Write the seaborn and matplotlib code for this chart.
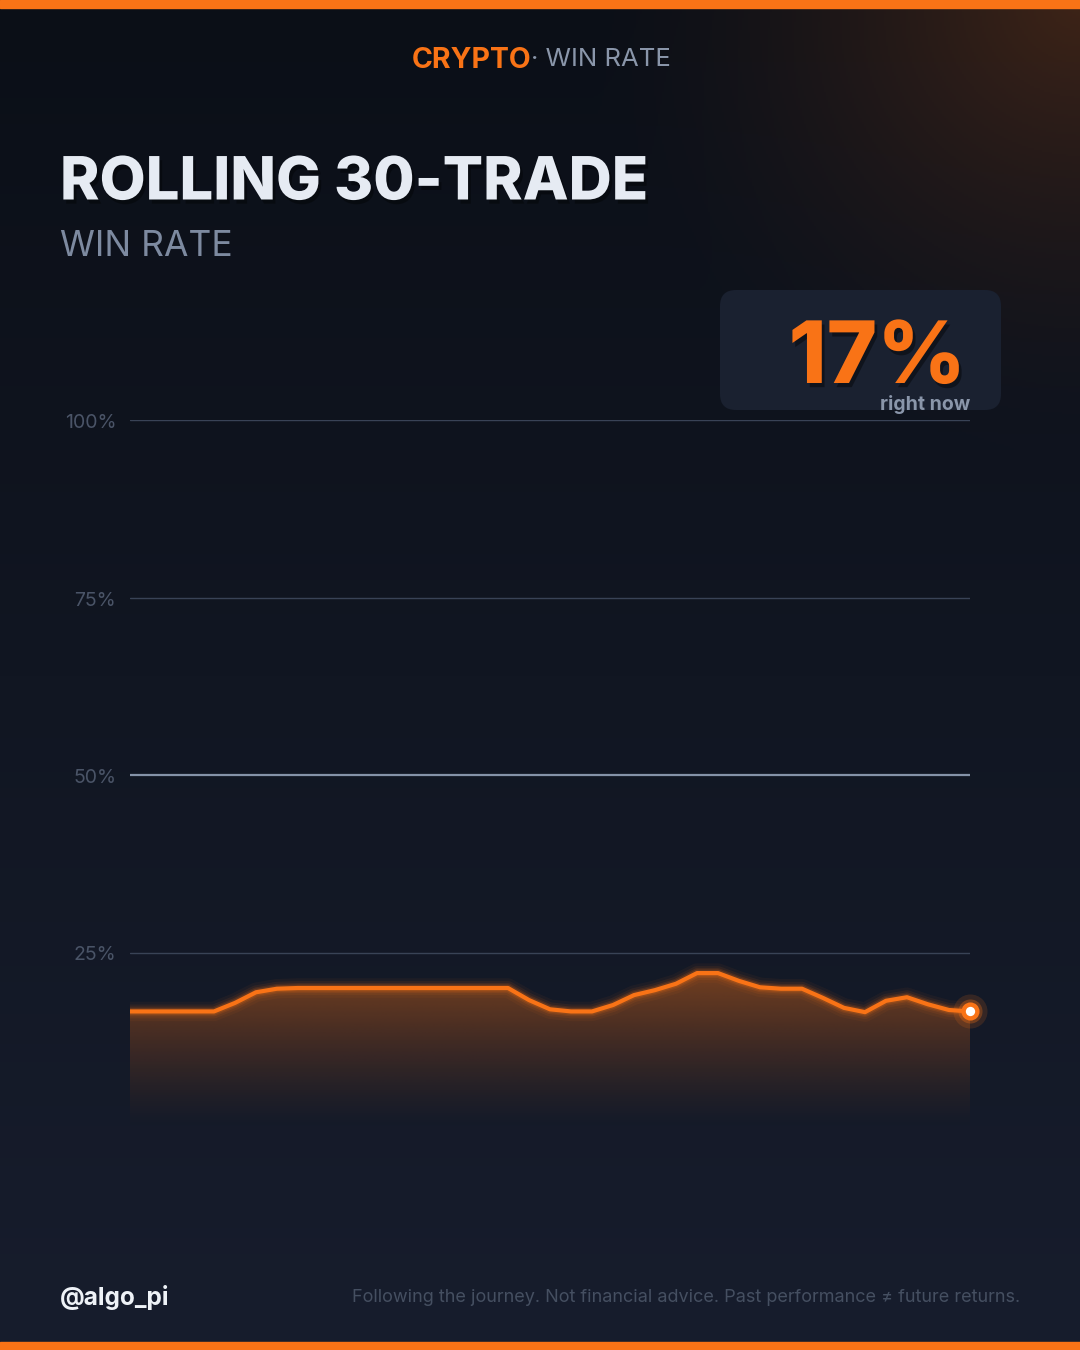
import numpy as np
import pandas as pd
import matplotlib
matplotlib.use("Agg")
import matplotlib.pyplot as plt
import seaborn as sns
from matplotlib.patches import FancyBboxPatch, Rectangle
import matplotlib.patheffects as pe

# rolling 30-trade win rate (%), one point per step
trade_idx = list(range(41))
win_rate = [16.7, 16.7, 16.7, 16.7, 16.7, 17.9, 19.4, 19.9, 20.0, 20.0,
            20.0, 20.0, 20.0, 20.0, 20.0, 20.0, 20.0, 20.0, 20.0, 18.3,
            17.0, 16.7, 16.7, 17.6, 19.0, 19.7, 20.6, 22.1, 22.1, 21.0,
            20.1, 19.9, 19.9, 18.6, 17.2, 16.6, 18.2, 18.7, 17.7, 16.9,
            16.7]
y_ticks = [25, 50, 75, 100]
y_tick_labels = ["25%", "50%", "75%", "100%"]
current_label = "17%"

ORANGE = "#f97316"
df = pd.DataFrame({"trade": trade_idx, "rate": win_rate})

sns.set_theme(style="dark")
plt.rcParams["font.family"] = ["Inter", "DejaVu Sans"]

W, H = 1080, 1350
fig = plt.figure(figsize=(10.8, 13.5), dpi=100)

# background: vertical gradient + orange glow in the top right corner
bg = fig.add_axes([0, 0, 1, 1])
bg.set_axis_off()
yy, xx = np.mgrid[0:H:2, 0:W:2]
top = np.array([11, 15, 23]) / 255
bot = np.array([23, 29, 45]) / 255
t = (yy / H)[..., None]
img = top * (1 - t) + bot * t
d = np.sqrt((xx - W) ** 2 + (yy * 1.1) ** 2)
glow = np.clip(1 - d / 500, 0, 1) ** 1.5
glow_col = np.array([62, 36, 24]) / 255
img = img * (1 - glow[..., None]) + glow_col * glow[..., None]
bg.imshow(img, extent=[0, W, H, 0], aspect="auto", zorder=0)
bg.set_xlim(0, W)
bg.set_ylim(H, 0)
bg.add_patch(Rectangle((0, 0), W, 8, color=ORANGE, zorder=2))
bg.add_patch(Rectangle((0, H - 8), W, 8, color=ORANGE, zorder=2))

# header
bg.text(531, 60, "CRYPTO", color=ORANGE, fontsize=20.5, fontweight="bold",
        ha="right", va="center")
bg.text(531, 60, "· WIN RATE", color="#8a96aa", fontsize=18.5,
        ha="left", va="center")
bg.text(60, 184, "ROLLING 30-TRADE", color="#e6ebf3", fontsize=43,
        fontweight="heavy", ha="left", va="center",
        path_effects=[pe.withSimplePatchShadow(offset=(2, -3), shadow_rgbFace="black", alpha=0.35)])
bg.text(60, 246, "WIN RATE", color="#7d8aa0", fontsize=25.5, ha="left", va="center")

# current value card
bg.add_patch(FancyBboxPatch((720, 290), 281, 120, boxstyle="round,pad=0,rounding_size=16",
                            facecolor="#1a2130", edgecolor="none", zorder=2))
bg.text(966, 383, current_label, color=ORANGE, fontsize=62, fontweight="heavy",
        ha="right", va="baseline", zorder=3,
        path_effects=[pe.withSimplePatchShadow(offset=(2, -3), shadow_rgbFace="black", alpha=0.4)])
bg.text(970, 410, "right now", color="#8a96aa", fontsize=14, fontweight="bold",
        ha="right", va="baseline", zorder=3)

# footer
bg.text(60, 1297, "@algo_pi", color="#eef2f7", fontsize=17.5, fontweight="bold",
        ha="left", va="center")
bg.text(1020, 1297, "Following the journey. Not financial advice. Past performance \u2260 future returns.",
        color="#454f61", fontsize=13, ha="right", va="center")

# chart axes: 0% at y=1130 px, 100% at y=420 px
ax = fig.add_axes([130 / W, (H - 1130) / H, 840 / W, 710 / H])
ax.patch.set_alpha(0)
ax.set_xlim(0, 40)
ax.set_ylim(0, 100)
for s in ax.spines.values():
    s.set_visible(False)
ax.set_xticks([])
ax.set_yticks(y_ticks)
ax.set_yticklabels(y_tick_labels, va="top")
ax.tick_params(axis="y", length=0, pad=10, labelsize=14, labelcolor="#4a5467")
for lab in ax.get_yticklabels():
    lab.set_va("center")
    lab.set_transform(lab.get_transform() + matplotlib.transforms.ScaledTranslation(0, -3 / 100, fig.dpi_scale_trans))
ax.grid(False)
for v in y_ticks:
    if v == 50:
        ax.axhline(v, color="#8593a8", lw=1.6, zorder=1)
    else:
        ax.axhline(v, color="#394356", lw=1.0, zorder=1)

# gradient fill under the line
poly = ax.fill_between(df["trade"], df["rate"], 0, color="none", lw=0)
grad = np.zeros((256, 2, 4))
grad[..., :3] = matplotlib.colors.to_rgb(ORANGE)
a = np.linspace(0, 1, 256)[:, None]
grad[..., 3] = 0.42 * a ** 1.3
gi = ax.imshow(grad, extent=[0, 40, 0, max(win_rate)], origin="lower",
               aspect="auto", zorder=2)
gi.set_clip_path(poly.get_paths()[0], transform=ax.transData)

# glowing line
for lw, al in [(14, 0.05), (10, 0.08), (7, 0.12), (5, 0.18)]:
    ax.plot(df["trade"], df["rate"], color=ORANGE, lw=lw, alpha=al,
            solid_capstyle="round", zorder=3)
sns.lineplot(data=df, x="trade", y="rate", color=ORANGE, lw=3, ax=ax, zorder=4)
ax.set_xlabel("")
ax.set_ylabel("")

# end marker
lx, ly = trade_idx[-1], win_rate[-1]
ax.scatter([lx], [ly], s=600, color=ORANGE, alpha=0.15, lw=0, zorder=5, clip_on=False)
ax.scatter([lx], [ly], s=300, color=ORANGE, alpha=0.3, lw=0, zorder=5, clip_on=False)
ax.scatter([lx], [ly], s=170, color=ORANGE, lw=0, zorder=6, clip_on=False)
ax.scatter([lx], [ly], s=45, color="white", lw=0, zorder=7, clip_on=False)

fig.savefig("out.png", dpi=100)
